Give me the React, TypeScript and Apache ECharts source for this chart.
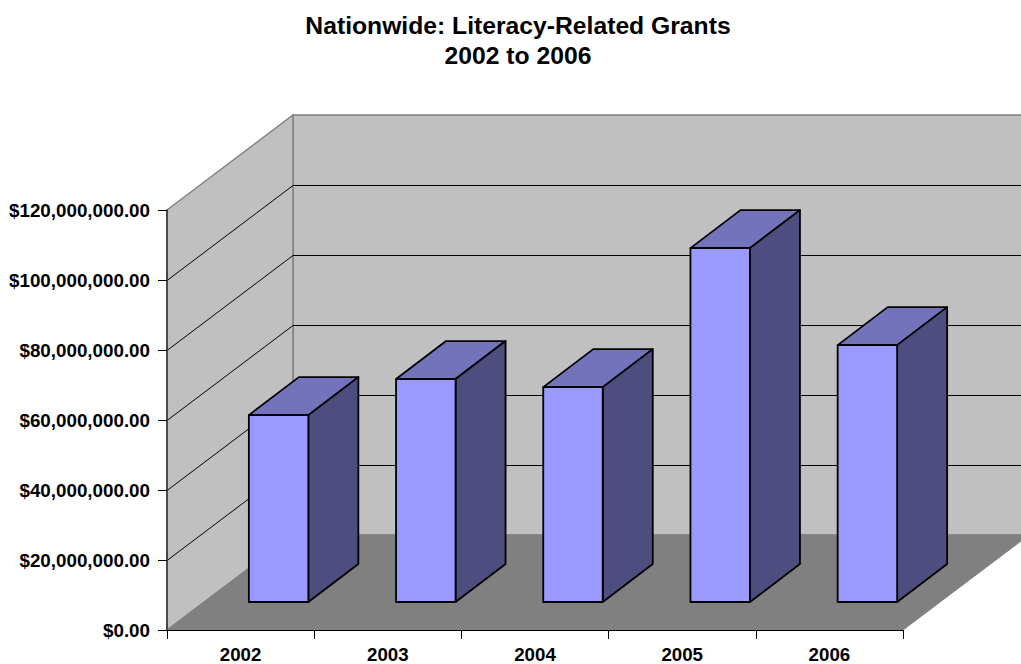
import React, { useEffect, useRef } from "react";
import * as echarts from "echarts";

const titleText = "Nationwide: Literacy-Related Grants\n2002 to 2006";
const categories = ["2002", "2003", "2004", "2005", "2006"];
const grants = [53400000, 63700000, 61400000, 101100000, 73400000];
const gridValues = [20000000, 40000000, 60000000, 80000000, 100000000];
const yMax = 120000000;
const yStep = 20000000;

const DEPTH_X = 126;
const DEPTH_Y = 95;
const BAR_WIDTH = 59.5;
const BAR_DX = 50;
const BAR_DY = 38;
const BASE_DX = 38;
const BASE_DY = 28;

const fmt = (v: number) =>
  "$" + v.toLocaleString("en-US", { minimumFractionDigits: 2, maximumFractionDigits: 2 });

export default function App() {
  const ref = useRef<HTMLDivElement>(null);
  useEffect(() => {
    const chart = echarts.init(ref.current!, undefined, { renderer: "svg" });
    const font = "'Liberation Sans', Arial, sans-serif";
    const renderWalls = (params: any, api: any) => {
      const cs = params.coordSys;
      const x0 = cs.x;
      const x1 = cs.x + cs.width;
      const y0 = api.coord([0, 0])[1];
      const yT = api.coord([0, yMax])[1];
      const border = { stroke: "#808080", lineWidth: 1.5 };
      const children: any[] = [
        { type: "polygon", shape: { points: [[x0 + DEPTH_X, yT - DEPTH_Y], [x1 + DEPTH_X, yT - DEPTH_Y], [x1 + DEPTH_X, y0 - DEPTH_Y], [x0 + DEPTH_X, y0 - DEPTH_Y]] }, style: { fill: "#C0C0C0", ...border } },
        { type: "polygon", shape: { points: [[x0, yT], [x0 + DEPTH_X, yT - DEPTH_Y], [x0 + DEPTH_X, y0 - DEPTH_Y], [x0, y0]] }, style: { fill: "#C0C0C0", ...border } },
        { type: "polygon", shape: { points: [[x0, y0], [x1, y0], [x1 + DEPTH_X, y0 - DEPTH_Y], [x0 + DEPTH_X, y0 - DEPTH_Y]] }, style: { fill: "#808080", stroke: "#808080", lineWidth: 1 } },
      ];
      gridValues.forEach((v) => {
        const y = Math.round(api.coord([0, v])[1]) + 0.5;
        children.push({
          type: "polyline",
          shape: { points: [[x0, y], [x0 + DEPTH_X, y - DEPTH_Y], [x1 + DEPTH_X, y - DEPTH_Y]] },
          style: { fill: "none", stroke: "#000", lineWidth: 1 },
        });
      });
      return { type: "group", children };
    };
    const renderBar = (_: any, api: any) => {
      const cat = api.value(0);
      const base = api.coord([cat, 0]);
      const top = api.coord([cat, api.value(1)]);
      const xl = base[0] + BASE_DX - BAR_WIDTH / 2;
      const xr = xl + BAR_WIDTH;
      const yb = base[1] - BASE_DY;
      const yt = top[1] - BASE_DY;
      const line = { stroke: "#000", lineWidth: 1.8, lineJoin: "round" };
      return {
        type: "group",
        children: [
          { type: "polygon", shape: { points: [[xl, yt], [xr, yt], [xr + BAR_DX, yt - BAR_DY], [xl + BAR_DX, yt - BAR_DY]] }, style: { fill: "#7373BC", ...line } },
          { type: "polygon", shape: { points: [[xr, yt], [xr + BAR_DX, yt - BAR_DY], [xr + BAR_DX, yb - BAR_DY], [xr, yb]] }, style: { fill: "#4D4D80", ...line } },
          { type: "polygon", shape: { points: [[xl, yt], [xr, yt], [xr, yb], [xl, yb]] }, style: { fill: "#9999FF", ...line } },
        ],
      };
    };
    chart.setOption({
      animation: false,
      backgroundColor: "#fff",
      title: {
        text: titleText,
        left: 513,
        top: 5,
        textAlign: "center",
        textStyle: { fontFamily: font, fontSize: 24.7, fontWeight: "bold", color: "#000", lineHeight: 30 },
      },
      grid: { left: 167, right: 118, top: 210, bottom: 34, containLabel: false },
      xAxis: {
        type: "category",
        data: categories,
        z: 10,
        boundaryGap: true,
        axisLine: { show: true, lineStyle: { color: "#000", width: 1 } },
        axisTick: { show: true, length: 9, alignWithLabel: false, interval: 0, lineStyle: { color: "#000", width: 1 } },
        axisLabel: { fontFamily: font, fontSize: 18.7, fontWeight: "bold", color: "#000", margin: 15 },
        splitLine: { show: false },
      },
      yAxis: {
        type: "value",
        min: 0,
        max: yMax,
        interval: yStep,
        z: 10,
        axisLine: { show: true, lineStyle: { color: "#303030", width: 1.5 } },
        axisTick: { show: true, length: 9, lineStyle: { color: "#000", width: 1 } },
        axisLabel: { fontFamily: font, fontSize: 18.8, fontWeight: "bold", color: "#000", margin: 17, padding: [0, 0, 2, 0], formatter: fmt },
        splitLine: { show: false },
      },
      series: [
        { type: "custom", z: 1, clip: false, silent: true, renderItem: renderWalls, encode: { x: 0, y: 1 }, data: [[0, 0]] },
        { type: "custom", z: 2, clip: false, renderItem: renderBar, encode: { x: 0, y: 1 }, data: grants.map((v, i) => [i, v]) },
      ],
    });
    return () => chart.dispose();
  }, []);
  return <div ref={ref} style={{ position: "absolute", left: 0, top: 0, width: 1021, height: 664 }} />;
}
